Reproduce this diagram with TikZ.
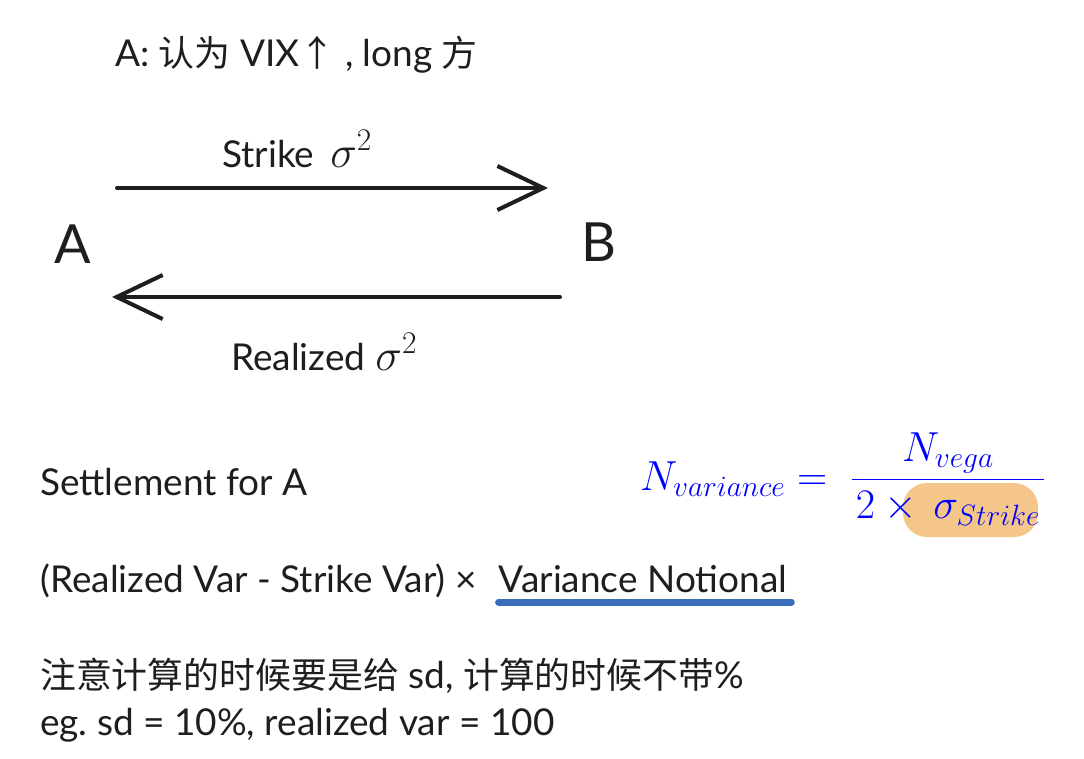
\RequirePackage{fix-cm}
\documentclass[tikz,border=0pt]{standalone}
\usepackage{fontspec}
\setmainfont{Lato}
\newfontfamily\cjk{Noto Sans CJK SC}[Scale=0.97]
\usepackage{xcolor}
\usetikzlibrary{arrows.meta,positioning}
\frenchspacing

\definecolor{ink}{HTML}{1E1E1E}
\definecolor{hlorange}{HTML}{F5C68A}
\definecolor{ulblue}{HTML}{3A6EBA}

% squared volatility in the leg labels
\newcommand{\sigsq}{{\fontsize{45}{50}\selectfont$\sigma^2$}}

\begin{document}
\begin{tikzpicture}[
        x=1pt, y=-1pt,
        txt/.style = {text=ink, inner sep=0pt, anchor=base west, font=\fontsize{37}{42}\selectfont},
        letter/.style = {text=ink, inner sep=0pt, anchor=base west, font=\fontsize{54}{60}\selectfont},
        flow/.style = {draw=ink, line width=4pt, line cap=round,
            -{Straight Barb[length=46pt, width=44pt, line width=4pt]}},
        uline/.style = {draw=ulblue, line width=7pt, line cap=round}
    ]
    \useasboundingbox (0,0) rectangle (1084,758);

    % heading
    \node[txt] (view) at (115,66) {A: {\cjk 认为} VIX{\cjk ↑} , long {\cjk 方}};

    % the two parties
    \node[letter] (A) at (54,263) {A};
    \node[letter] (B) at (581,261) {B};

    % swap legs
    \coordinate (fixS) at (117,188);
    \coordinate (fixE) at (548,188);
    \coordinate (floS) at (560,297);
    \coordinate (floE) at (112,297);
    \draw[flow] (fixS) -- (fixE);
    \draw[flow] (floS) -- (floE);
    \node[txt] (fixlbl) at (222,167) {Strike\hspace{16pt}\sigsq};
    \node[txt] (flolbl) at (231,370) {Realized\hspace{10pt}\sigsq};

    % settlement
    \node[txt] (settle) at (40,495) {Settlement for A};
    \node[txt] (payoff) at (40,592) {(Realized Var - Strike Var) ×};
    \node[txt, right=22pt of payoff.base east, anchor=base west] (notional) {Variance Notional};
    \draw[uline] ([yshift=-10pt]notional.base west) -- ([yshift=-10pt,xshift=4pt]notional.base east);

    % notional conversion
    \fill[hlorange, rounded corners=24pt] (903,483) rectangle (1038,537);
    \node[text=blue, inner sep=0pt, anchor=base west, font=\fontsize{42}{48}\selectfont] (nvar) at (640,490)
        {$\displaystyle N_{variance} =\; \frac{N_{vega}}{\hspace{4pt}2\times\,\sigma_{Strike}\hspace{4pt}}$};

    % notes
    \node[txt] (note) at (40,688) {{\cjk 注意计算的时候要是给} sd, {\cjk 计算的时候不带}\%};
    \node[txt] (example) at (40,735) {eg. sd = 10\%, realized var = 100};
\end{tikzpicture}
\end{document}
